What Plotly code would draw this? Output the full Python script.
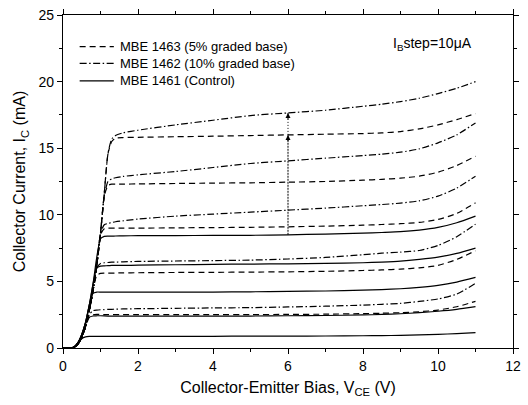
import plotly.graph_objects as go

# Collector-emitter bias grid (V)
VCE = [0, 0.2, 0.3, 0.4, 0.5, 0.6, 0.7, 0.8, 0.9, 1.0, 1.1, 1.2, 1.3, 1.4, 1.6,
       2, 3, 4, 5, 6, 7, 8, 8.5, 9, 9.5, 10, 10.5, 11]

# MBE 1463 (5% graded base) - dashed, collector current (mA)
IC_1463_1 = [0, 0, 0.05, 0.3, 0.8, 1.6, 2.3, 2.48, 2.52, 2.52, 2.5, 2.5, 2.5, 2.5, 2.5,
             2.5, 2.5, 2.5, 2.51, 2.52, 2.54, 2.58, 2.61, 2.65, 2.72, 2.85, 3.1, 3.5]
IC_1463_2 = [0, 0, 0.05, 0.3, 0.8, 1.6, 2.8, 4.3, 5.45, 5.6, 5.62, 5.62, 5.62, 5.63, 5.64,
             5.65, 5.67, 5.68, 5.7, 5.72, 5.76, 5.82, 5.86, 5.92, 6.02, 6.2, 6.65, 7.3]
IC_1463_3 = [0, 0, 0.05, 0.3, 0.8, 1.6, 2.8, 4.3, 6.2, 8.5, 8.95, 9.0, 9.0, 9.0, 9.0,
             9.0, 9.02, 9.04, 9.06, 9.1, 9.15, 9.22, 9.27, 9.33, 9.43, 9.65, 10.1, 10.9]
IC_1463_4 = [0, 0, 0.05, 0.3, 0.8, 1.6, 2.8, 4.3, 6.2, 8.6, 11.4, 12.2, 12.3, 12.3, 12.3,
             12.32, 12.35, 12.38, 12.4, 12.45, 12.5, 12.6, 12.66, 12.75, 12.9, 13.2, 13.7, 14.4]
IC_1463_5 = [0, 0, 0.05, 0.3, 0.8, 1.6, 2.8, 4.3, 6.2, 8.6, 11.6, 14.6, 15.5, 15.75, 15.8,
             15.82, 15.86, 15.9, 15.95, 16.0, 16.05, 16.1, 16.15, 16.25, 16.45, 16.75, 17.15, 17.6]

# MBE 1462 (10% graded base) - dash-dot
IC_1462_1 = [0, 0, 0.05, 0.3, 0.8, 1.6, 2.5, 2.8, 2.85, 2.87, 2.88, 2.9, 2.9, 2.92, 2.93,
             2.95, 2.98, 3.01, 3.03, 3.08, 3.14, 3.22, 3.28, 3.35, 3.5, 3.68, 4.05, 4.85]
IC_1462_2 = [0, 0, 0.05, 0.3, 0.8, 1.6, 2.8, 4.3, 6.0, 6.35, 6.4, 6.42, 6.44, 6.45, 6.47,
             6.5, 6.53, 6.56, 6.6, 6.68, 6.8, 7.0, 7.12, 7.2, 7.32, 7.7, 8.35, 9.3]
IC_1462_3 = [0, 0, 0.05, 0.3, 0.8, 1.6, 2.8, 4.3, 6.2, 8.6, 9.25, 9.35, 9.42, 9.48, 9.55,
             9.68, 9.9, 10.05, 10.2, 10.35, 10.5, 10.68, 10.77, 10.88, 11.05, 11.4, 12.0, 12.9]
IC_1462_4 = [0, 0, 0.05, 0.3, 0.8, 1.6, 2.8, 4.3, 6.2, 8.6, 11.4, 12.5, 12.7, 12.78, 12.88,
             13.0, 13.25, 13.55, 13.85, 14.05, 14.25, 14.45, 14.55, 14.7, 14.95, 15.4, 16.0, 16.9]
IC_1462_5 = [0, 0, 0.05, 0.3, 0.8, 1.6, 2.8, 4.3, 6.2, 8.6, 11.6, 14.6, 15.7, 15.95, 16.15,
             16.35, 16.75, 17.1, 17.45, 17.65, 17.85, 18.15, 18.3, 18.5, 18.75, 19.1, 19.5, 20.0]

# MBE 1461 (Control) - solid
IC_1461_1 = [0, 0, 0.08, 0.35, 0.7, 0.83, 0.87, 0.88, 0.88, 0.88, 0.88, 0.88, 0.88, 0.88, 0.88,
             0.88, 0.88, 0.88, 0.89, 0.89, 0.9, 0.92, 0.93, 0.95, 0.98, 1.02, 1.08, 1.15]
IC_1461_2 = [0, 0, 0.1, 0.4, 1.0, 1.8, 2.3, 2.4, 2.42, 2.42, 2.41, 2.4, 2.4, 2.4, 2.4,
             2.4, 2.4, 2.4, 2.4, 2.42, 2.44, 2.48, 2.52, 2.57, 2.65, 2.76, 2.9, 3.1]
IC_1461_3 = [0, 0, 0.1, 0.4, 1.0, 1.9, 3.2, 4.1, 4.2, 4.2, 4.2, 4.2, 4.2, 4.2, 4.2,
             4.2, 4.2, 4.2, 4.22, 4.25, 4.28, 4.34, 4.39, 4.45, 4.55, 4.7, 4.95, 5.3]
IC_1461_4 = [0, 0, 0.1, 0.4, 1.0, 1.9, 3.2, 4.8, 6.0, 6.15, 6.17, 6.18, 6.2, 6.2, 6.2,
             6.22, 6.25, 6.28, 6.3, 6.32, 6.35, 6.4, 6.45, 6.52, 6.65, 6.82, 7.1, 7.5]
IC_1461_5 = [0, 0, 0.1, 0.4, 1.0, 1.9, 3.2, 4.8, 6.8, 8.2, 8.38, 8.4, 8.4, 8.41, 8.42,
             8.43, 8.44, 8.45, 8.46, 8.5, 8.55, 8.62, 8.67, 8.73, 8.85, 9.05, 9.4, 9.9]

SERIES_NAMES = ["MBE 1463 (5% graded base)", "MBE 1462 (10% graded base)", "MBE 1461 (Control)"]
ARROW_VCE = 6
IB_LABEL = "I<sub>B</sub>step=10\u03bcA"
X_TITLE = "Collector-Emitter Bias, V<sub>CE</sub> (V)"
Y_TITLE = "Collector Current, I<sub>C</sub> (mA)"

DASHES = ["6px,4px", "7px,2.5px,1.5px,2.5px", "solid"]
families = [
    (SERIES_NAMES[0], DASHES[0], [IC_1463_1, IC_1463_2, IC_1463_3, IC_1463_4, IC_1463_5]),
    (SERIES_NAMES[1], DASHES[1], [IC_1462_1, IC_1462_2, IC_1462_3, IC_1462_4, IC_1462_5]),
    (SERIES_NAMES[2], DASHES[2], [IC_1461_1, IC_1461_2, IC_1461_3, IC_1461_4, IC_1461_5]),
]

FONT = "Liberation Sans, Arial, sans-serif"
LINE_W = 1.2

fig = go.Figure()
for name, dash, curves in families:
    for i, ic in enumerate(curves):
        fig.add_trace(go.Scatter(
            x=VCE, y=ic, mode="lines", name=name, legendgroup=name,
            showlegend=False,
            line=dict(color="black", width=LINE_W, dash=dash, shape="spline", smoothing=0.6),
            hoverinfo="skip",
        ))

# compact legend (top-left, inside the frame): line sample + text
LEG_X0, LEG_X1, LEG_TX = 0.037, 0.113, 0.122   # paper coords
LEG_Y = [0.905, 0.855, 0.802]
for (name, dash, _), ly in zip(families, LEG_Y):
    fig.add_shape(type="line", xref="paper", yref="paper", x0=LEG_X0, x1=LEG_X1, y0=ly, y1=ly,
                  line=dict(color="black", width=LINE_W, dash=dash))
    fig.add_annotation(x=LEG_TX, y=ly, xref="paper", yref="paper", text=name, showarrow=False,
                       xanchor="left", yanchor="middle",
                       font=dict(size=13, color="black", family=FONT))

# arrow at VCE = 6 between curves
k = VCE.index(ARROW_VCE)
y_s = IC_1461_5[k]
y_d = IC_1463_5[k]
y_dd = IC_1462_5[k]
fig.add_shape(type="line", xref="x", yref="y", x0=ARROW_VCE, x1=ARROW_VCE, y0=y_s, y1=y_d,
              line=dict(color="black", width=1, dash="2px,1px"))
fig.add_shape(type="line", xref="x", yref="y", x0=ARROW_VCE, x1=ARROW_VCE, y0=y_d, y1=y_dd,
              line=dict(color="black", width=1, dash="1px,2px"))
for yy in (y_d, y_dd):
    fig.add_annotation(x=ARROW_VCE, y=yy, ax=0, ay=8, xref="x", yref="y", text="",
                       showarrow=True, arrowhead=2, arrowsize=1, arrowwidth=1, arrowcolor="black")

fig.add_annotation(x=10.95, y=22.8, xref="x", yref="y", text=IB_LABEL, showarrow=False,
                   xanchor="right", yanchor="middle", font=dict(size=14, color="black", family=FONT))

axis_common = dict(
    showline=True, linewidth=1.2, linecolor="black", mirror="allticks",
    ticks="outside", ticklen=5, tickwidth=1, tickcolor="black",
    showgrid=False, zeroline=False,
    tickfont=dict(size=14, color="black", family=FONT),
)

fig.update_layout(
    width=528, height=405,
    margin=dict(l=63, r=7, t=13, b=57),
    paper_bgcolor="white", plot_bgcolor="white",
    font=dict(family=FONT, color="black"),
    xaxis=dict(range=[0, 12], tick0=0, dtick=2,
               minor=dict(dtick=1, ticklen=3, ticks="outside", tickcolor="black", showgrid=False),
               title=dict(text=X_TITLE, font=dict(size=16, family=FONT, color="black"), standoff=8),
               **axis_common),
    yaxis=dict(range=[0, 25], tick0=0, dtick=5,
               minor=dict(dtick=2.5, ticklen=3, ticks="outside", tickcolor="black", showgrid=False),
               title=dict(text=Y_TITLE, font=dict(size=16, family=FONT, color="black"), standoff=8),
               **axis_common),
    showlegend=False,
)

fig.write_html("out.html")
